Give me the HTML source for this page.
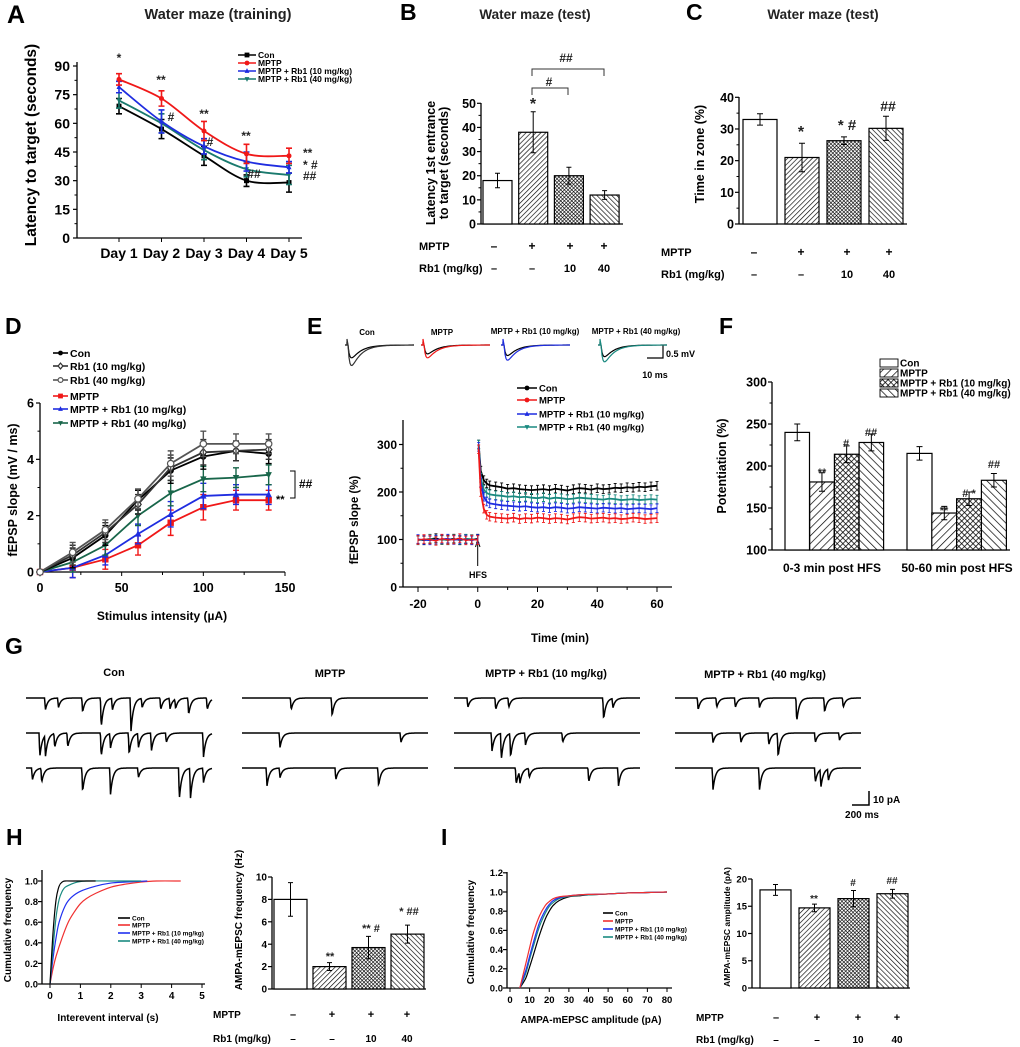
<!DOCTYPE html>
<html><head><meta charset="utf-8">
<style>html,body{margin:0;padding:0;background:#fff}svg{display:block}</style>
</head><body>
<svg id="fig" width="1020" height="1047" viewBox="0 0 1020 1047" xmlns="http://www.w3.org/2000/svg" font-family="Liberation Sans, Arial, sans-serif" font-weight="bold">
<defs>
<pattern id="pM" width="3.5" height="3.5" patternUnits="userSpaceOnUse" patternTransform="rotate(45)"><rect width="3.5" height="3.5" fill="#fff"/><line x1="0" y1="0" x2="0" y2="3.5" stroke="#000" stroke-width="1.3"/></pattern>
<pattern id="pR10" width="2.6" height="2.6" patternUnits="userSpaceOnUse" patternTransform="rotate(45)"><rect width="2.6" height="2.6" fill="#fff"/><path d="M0 0V2.6M0 0H2.6" stroke="#000" stroke-width="1.2"/></pattern>
<pattern id="pR40" width="3.5" height="3.5" patternUnits="userSpaceOnUse" patternTransform="rotate(-45)"><rect width="3.5" height="3.5" fill="#fff"/><line x1="0" y1="0" x2="0" y2="3.5" stroke="#000" stroke-width="1.3"/></pattern>
<pattern id="fM" width="5.5" height="5.5" patternUnits="userSpaceOnUse" patternTransform="rotate(45)"><rect width="5.5" height="5.5" fill="#fff"/><line x1="0" y1="0" x2="0" y2="5.5" stroke="#000" stroke-width="1.4"/></pattern>
<pattern id="fR10" width="4" height="4" patternUnits="userSpaceOnUse" patternTransform="rotate(45)"><rect width="4" height="4" fill="#fff"/><path d="M0 0V4M0 0H4" stroke="#000" stroke-width="1.5"/></pattern>
<pattern id="fR40" width="5.5" height="5.5" patternUnits="userSpaceOnUse" patternTransform="rotate(-45)"><rect width="5.5" height="5.5" fill="#fff"/><line x1="0" y1="0" x2="0" y2="5.5" stroke="#000" stroke-width="1.4"/></pattern>
</defs>

<text x="7" y="23" font-size="25">A</text>
<text x="218" y="19" font-size="14.5" text-anchor="middle" fill="#222">Water maze (training)</text>
<text x="400" y="20" font-size="23">B</text>
<text x="535" y="19" font-size="13.5" text-anchor="middle" fill="#222">Water maze (test)</text>
<text x="686" y="20" font-size="23">C</text>
<text x="823" y="19" font-size="13.5" text-anchor="middle" fill="#222">Water maze (test)</text>
<text x="5" y="334" font-size="23">D</text>
<text x="307" y="334" font-size="23">E</text>
<text x="719" y="334" font-size="23">F</text>
<text x="5" y="654" font-size="23">G</text>
<text x="6" y="845" font-size="23">H</text>
<text x="441" y="845" font-size="23">I</text>

<text transform="translate(36,145) rotate(-90)" font-size="15.5" text-anchor="middle">Latency to target (seconds)</text>
<text transform="translate(435,163) rotate(-90)" font-size="12.5" text-anchor="middle">Latency 1st entrance</text>
<text transform="translate(448,163) rotate(-90)" font-size="12.5" text-anchor="middle">to target (seconds)</text>
<text transform="translate(704,154) rotate(-90)" font-size="12.5" text-anchor="middle">Time in zone (%)</text>
<text transform="translate(17,490) rotate(-90)" font-size="12.5" text-anchor="middle">fEPSP slope (mV / ms)</text>
<text x="162" y="620" font-size="12" text-anchor="middle">Stimulus intensity (µA)</text>
<text transform="translate(358,520) rotate(-90)" font-size="11.5" text-anchor="middle">fEPSP slope (%)</text>
<text x="560" y="642" font-size="11.5" text-anchor="middle">Time (min)</text>
<text transform="translate(726,466) rotate(-90)" font-size="12.5" text-anchor="middle">Potentiation (%)</text>
<text x="832" y="572" font-size="12" text-anchor="middle">0-3 min post HFS</text>
<text x="957" y="572" font-size="12" text-anchor="middle">50-60 min post HFS</text>
<text transform="translate(11,930) rotate(-90)" font-size="10" text-anchor="middle">Cumulative frequency</text>
<text x="108" y="1021" font-size="10" text-anchor="middle">Interevent interval (s)</text>
<text transform="translate(242,920) rotate(-90)" font-size="10" text-anchor="middle">AMPA-mEPSC frequency (Hz)</text>
<text transform="translate(474,932) rotate(-90)" font-size="10" text-anchor="middle">Cumulative frequency</text>
<text x="591" y="1023" font-size="10" text-anchor="middle">AMPA-mEPSC amplitude (pA)</text>
<text transform="translate(730,927) rotate(-90)" font-size="8.5" text-anchor="middle">AMPA-mEPSC amplitude (pA)</text>

<text x="114" y="676" font-size="11" text-anchor="middle">Con</text>
<text x="330" y="677" font-size="11" text-anchor="middle">MPTP</text>
<text x="546" y="677" font-size="11" text-anchor="middle">MPTP + Rb1 (10 mg/kg)</text>
<text x="765" y="678" font-size="11" text-anchor="middle">MPTP + Rb1 (40 mg/kg)</text>
<path d="M869 791V805H852" stroke="#000" stroke-width="1.5" fill="none"/>
<text x="873" y="803" font-size="10">10 pA</text>
<text x="862" y="818" font-size="10" text-anchor="middle">200 ms</text>

<text x="367" y="335" font-size="8" text-anchor="middle">Con</text>
<text x="442" y="335" font-size="8" text-anchor="middle">MPTP</text>
<text x="535" y="334" font-size="8" text-anchor="middle">MPTP + Rb1 (10 mg/kg)</text>
<text x="636" y="334" font-size="8" text-anchor="middle">MPTP + Rb1 (40 mg/kg)</text>
<path d="M663 345V358H647" stroke="#000" stroke-width="1.2" fill="none"/>
<text x="666" y="357" font-size="9">0.5 mV</text>
<text x="655" y="378" font-size="9" text-anchor="middle">10 ms</text>
<text x="478" y="578" font-size="9" text-anchor="middle">HFS</text>
<path d="M477.7 566V542M475.5 547L477.7 540L480 547" stroke="#000" stroke-width="1" fill="none"/>
</svg>

<script>
const days = ['Day 1','Day 2','Day 3','Day 4','Day 5'];
const aCon = [69,57,43,30,29];
const aMPTP = [83,73,56,44,43];
const aRb10 = [79,61,48,40,37];
const aRb40 = [72,60,46,36,33];
const aConErr = [4,5,5,3,5];
const aMPTPErr = [3,4,5,5,4];
const aRb10Err = [3,6,4,5,3];
const aRb40Err = [4,5,5,4,5];

const bVals = [18,38,20,12];
const bErrs = [3,8.5,3.5,1.8];
const cVals = [33,21,26.3,30.2];
const cErrs = [1.8,4.5,1.2,3.8];

const dX = [0,20,40,60,80,100,120,140];
const dCon = [0,0.5,1.3,2.55,3.6,4.1,4.3,4.2];
const dRb10 = [0,0.6,1.4,2.4,3.7,4.25,4.3,4.35];
const dRb40 = [0,0.7,1.5,2.6,3.85,4.55,4.55,4.55];
const dMPTP = [0,0.15,0.45,0.95,1.75,2.3,2.55,2.55];
const dMRb10 = [0,0.15,0.6,1.35,2.05,2.7,2.75,2.75];
const dMRb40 = [0,0.35,0.95,2.0,2.8,3.3,3.35,3.45];
const dErr = [0,0.35,0.35,0.35,0.45,0.45,0.35,0.35];

const eBaseT = [-20,-18,-16,-14,-12,-10,-8,-6,-4,-2,0];
const ePostT = [0.3,1,2,3,4,6,8,10,12,14,16,18,20,22,24,26,28,30,32,34,36,38,40,42,44,46,48,50,52,54,56,58,60];
const eConBase = [100,98,101,103,99,100,102,98,101,100,102];
const eMBase = [99,101,100,97,102,99,100,103,98,100,99];
const eR10Base = [101,99,98,100,101,102,99,100,100,98,101];
const eR40Base = [98,100,102,99,100,98,101,99,102,101,100];
const eConPost = [300,245,225,218,214,212,210,207,208,206,205,204,205,206,204,207,205,203,206,208,207,205,208,206,207,209,208,210,209,211,210,212,213];
const eMPost = [290,200,165,152,148,146,145,144,146,143,145,144,146,145,143,145,144,142,145,147,146,144,145,146,144,145,143,144,146,145,143,144,145];
const eR10Post = [295,220,190,180,176,174,172,171,170,169,170,168,167,168,166,168,167,165,166,168,167,166,165,167,166,165,166,164,165,166,165,164,166];
const eR40Post = [300,230,205,198,195,193,192,190,191,189,190,188,187,189,186,188,187,185,186,188,187,186,185,184,186,185,183,184,185,183,184,185,184];
const eInsetPeakA = [0.55,0.38,0.45,0.5];
const eInsetPeakB = [0.88,0.55,0.65,0.72];

const fEarly = [240,181,214,228];
const fEarlyErr = [10,11,10,10];
const fLate = [215,144,161,183];
const fLateErr = [8,8,8,8];

const gPos = [
 [0.1,0.17,0.3,0.4,0.46,0.56,0.62,0.72,0.77,0.8,0.87,0.97],
 [0.07,0.1,0.15,0.22,0.4,0.45,0.55,0.6,0.67,0.75,0.95],
 [0.03,0.08,0.3,0.45,0.6,0.82,0.88,0.95],
 [0.26,0.48],[0.2,0.85],[0.13,0.2,0.5,0.73],
 [0.07,0.22,0.29,0.8,0.85],[0.2,0.25,0.3,0.38,0.58],[0.33,0.35,0.4,0.72,0.88],
 [0.12,0.22,0.32,0.45,0.65,0.8,0.9],[0.2,0.35,0.5,0.55,0.75,0.88],[0.2,0.45,0.75,0.78,0.82]
];
const gAmp = [
 [10,8,12,25,10,28,8,10,9,8,14,10],
 [20,18,12,12,20,12,18,12,15,8,20],
 [10,12,20,22,8,26,25,12],
 [10,15],[12,8],[15,8,10,15],
 [8,10,8,18,8],[15,22,20,10,8],[14,10,8,12,15],
 [10,8,8,8,20,12,8],[8,8,10,20,8,6],[18,18,12,15,10]
];

const hConX = [0,0.1,0.2,0.3,0.4,0.5,0.7,1.5];
const hConY = [0,0.5,0.82,0.95,0.99,1,1,1];
const hR40X = [0,0.1,0.2,0.3,0.4,0.5,0.7,0.9,1.2,2,3];
const hR40Y = [0,0.35,0.65,0.82,0.9,0.94,0.97,0.99,1,1,1];
const hR10X = [0,0.1,0.2,0.3,0.5,0.7,1,1.5,2,2.5,3.2];
const hR10Y = [0,0.25,0.45,0.6,0.76,0.84,0.9,0.95,0.98,0.99,1];
const hMX = [0,0.1,0.2,0.4,0.6,0.8,1,1.2,1.5,2,2.5,3,3.5,4.3];
const hMY = [0,0.15,0.27,0.45,0.6,0.7,0.78,0.83,0.88,0.94,0.97,0.99,1,1];
const hVals = [8,2,3.7,4.9];
const hErrs = [1.5,0.35,1.0,0.8];

const iX = [5,8,10,12,15,18,20,22,25,30,35,40,50,60,70,80];
const iMPTP = [0,0.25,0.42,0.58,0.75,0.86,0.9,0.93,0.95,0.96,0.97,0.975,0.98,0.99,0.995,1];
const iR10 = [0,0.18,0.33,0.48,0.68,0.81,0.87,0.91,0.94,0.96,0.97,0.975,0.98,0.99,0.995,1];
const iR40 = [0,0.15,0.3,0.44,0.64,0.78,0.85,0.89,0.93,0.955,0.965,0.97,0.98,0.99,0.995,1];
const iCon = [0,0.1,0.22,0.35,0.55,0.72,0.8,0.86,0.91,0.95,0.96,0.97,0.98,0.99,0.995,1];
const iVals = [18,14.7,16.4,17.3];
const iErrs = [1,0.7,1.5,0.8];

const NS = 'http://www.w3.org/2000/svg';
const svg = document.getElementById('fig');
function mk(tag, attrs, parent){const e=document.createElementNS(NS,tag);for(const k in attrs)e.setAttribute(k,attrs[k]);(parent||svg).appendChild(e);return e;}
function tx(x,y,s,size,anchor,parent,fill){const e=mk('text',{x:x,y:y,'font-size':size,'text-anchor':anchor||'start',fill:fill||'#000'},parent);e.textContent=s;return e;}
function sc(d0,d1,r0,r1){return v=>r0+(v-d0)*(r1-r0)/(d1-d0);}
function grp(){return mk('g',{});}

function yAxis(g,x,sy,ticks,minors,top,size,lblOff,tickLen){
  const ax=mk('line',{x1:x,y1:sy(ticks[0]),x2:x,y2:top,stroke:'#000','stroke-width':1.3},g);
  
  
  ticks.forEach(t=>{
    const tk=mk('line',{x1:x-(tickLen||4),y1:sy(t),x2:x,y2:sy(t),stroke:'#000','stroke-width':1.2},g);
    
    
    const l=tx(x-(lblOff||6),sy(t)+size*0.36,String(t),size,'end',g);
    
    
  });
  (minors||[]).forEach(t=>{
    const tk=mk('line',{x1:x-2.5,y1:sy(t),x2:x,y2:sy(t),stroke:'#000','stroke-width':1},g);
    
    
  });
}
function xAxisLine(g,x1,x2,y){
  const ax=mk('line',{x1:x1,y1:y,x2:x2,y2:y,stroke:'#000','stroke-width':1.3},g);
  
  
}
function errBar(g,x,y1,y2,cap,color,w){
  const e=mk('path',{d:`M${x} ${y1}V${y2}M${x-cap} ${y1}H${x+cap}M${x-cap} ${y2}H${x+cap}`,stroke:color||'#000','stroke-width':w||1,fill:'none'},g);
  
  
}
function bars(g,vals,errs,x0,w,step,sy,fills,cap){
  vals.forEach((v,i)=>{
    const x=x0+i*step;
    const r=mk('rect',{x:x,y:sy(v),width:w,height:sy(sy.base)-sy(v),fill:fills[i],stroke:'#000','stroke-width':1.2},g);
    
    
    errBar(g,x+w/2,sy(v+errs[i]),sy(v-errs[i]),cap||3);
  });
}
function smoothPath(pts){
  let d=`M${pts[0][0]} ${pts[0][1]}`;
  for(let i=0;i<pts.length-1;i++){
    const p0=pts[i-1]||pts[i],p1=pts[i],p2=pts[i+1],p3=pts[i+2]||p2;
    d+=` C${p1[0]+(p2[0]-p0[0])/6} ${p1[1]+(p2[1]-p0[1])/6} ${p2[0]-(p3[0]-p1[0])/6} ${p2[1]-(p3[1]-p1[1])/6} ${p2[0]} ${p2[1]}`;
  }
  return d;
}
function marker(g,type,x,y,color,s){
  let e;
  s=s||3;
  if(type==='circle') e=mk('circle',{cx:x,cy:y,r:s,fill:color},g);
  else if(type==='ocircle') e=mk('circle',{cx:x,cy:y,r:s,fill:'#fff',stroke:color,'stroke-width':1.2},g);
  else if(type==='square') e=mk('rect',{x:x-s,y:y-s,width:2*s,height:2*s,fill:color},g);
  else if(type==='diamond') e=mk('path',{d:`M${x} ${y-s-0.5}L${x+s} ${y}L${x} ${y+s+0.5}L${x-s} ${y}Z`,fill:'#fff',stroke:color,'stroke-width':1.2},g);
  else if(type==='tri') e=mk('path',{d:`M${x} ${y-s-0.5}L${x+s} ${y+s-0.5}L${x-s} ${y+s-0.5}Z`,fill:color},g);
  else e=mk('path',{d:`M${x} ${y+s+0.5}L${x+s} ${y-s+0.5}L${x-s} ${y-s+0.5}Z`,fill:color},g);
  
  
}
function signRows(g,labX,y1,y2,xs,row1,row2,size){
  const a=tx(labX,y1,'MPTP',size,'start',g);
  
  
  const b=tx(labX,y2,'Rb1 (mg/kg)',size,'start',g);
  
  
  xs.forEach((x,i)=>{
    const s1=tx(x,y1,row1[i],size+1,'middle',g);
    
    
    const s2=tx(x,y2,row2[i],size,'middle',g);
    
    
  });
}
function legendLine(g,x1,x2,y,color,label,size,mtype){
  const l=mk('line',{x1:x1,y1:y,x2:x2,y2:y,stroke:color,'stroke-width':1.6},g);
  
  
  if(mtype) marker(g,mtype,(x1+x2)/2,y,color,2.4);
  const t=tx(x2+2,y+size*0.36,label,size,'start',g);
  
  
}
const row1Labels=['–','+','+','+'];
const row2Labels=['–','–','10','40'];

(function(){
  const g=grp();
  
  
  const sy=sc(0,90,238,66);
  const sx=i=>119+42.5*i;
  yAxis(g,77,sy,[0,15,30,45,60,75,90],[7.5,22.5,37.5,52.5,67.5,82.5],62,14,7);
  xAxisLine(g,77,302,238);
  days.forEach((d,i)=>{
    const tk=mk('line',{x1:sx(i),y1:238,x2:sx(i),y2:242,stroke:'#000'},g);
    
    
    const l=tx(sx(i),258,d,14,'middle',g);
    
    
  });
  const series=[[aCon,aConErr,'#000','square'],[aRb40,aRb40Err,'#1a7a6e','tri2'],[aRb10,aRb10Err,'#1f2de0','tri'],[aMPTP,aMPTPErr,'#f01818','circle']];
  series.forEach(([v,e,c,m])=>{
    const pts=v.map((y,i)=>[sx(i),sy(y)]);
    const p=mk('path',{d:smoothPath(pts),stroke:c,'stroke-width':1.8,fill:'none'},g);
    
    
    v.forEach((y,i)=>{errBar(g,sx(i),sy(y+e[i]),sy(y-e[i]),3,c,1.6);marker(g,m,sx(i),sy(y),c,2.5);});
  });
  [['*',119,62],['**',161,84],['**',204,118],['**',246,140],['#',171,121],['#',210,146],['##',254,178],['**',303,157],['* #',303,169],['##',303,180]].forEach(([s,x,y])=>{
    const t=tx(x,y,s,12,s.length>1&&x>290?'start':'middle',g,'#222');
    
    
  });
  legendLine(g,238,256,55,'#000','Con',8.5,'square');
  legendLine(g,238,256,63,'#f01818','MPTP',8.5,'circle');
  legendLine(g,238,256,71,'#1f2de0','MPTP + Rb1 (10 mg/kg)',8.5,'tri');
  legendLine(g,238,256,79,'#1a7a6e','MPTP + Rb1 (40 mg/kg)',8.5,'tri2');
})();

(function(){
  const g=grp();
  
  
  const sy=sc(0,50,224,103.3); sy.base=0;
  yAxis(g,481,sy,[0,10,20,30,40,50],[5,15,25,35,45],103,12.5,5);
  xAxisLine(g,481,623,224);
  bars(g,bVals,bErrs,483,29,35.7,sy,['#fff','url(#pM)','url(#pR10)','url(#pR40)'],2.5);
  const br=mk('path',{d:'M532 76V69H604V76M532 95V88H568V95',stroke:'#333','stroke-width':1,fill:'none'},g);
  
  
  [['##',566,62,12],['#',549,86,12],['*',533,109,16]].forEach(([s,x,y,fs])=>{
    const t=tx(x,y,s,fs,'middle',g,'#222');
    
    
  });
  signRows(g,419,250,272,[494,532,570,604],row1Labels,row2Labels,11);
})();

(function(){
  const g=grp();
  
  
  const sy=sc(0,40,224,97.3); sy.base=0;
  yAxis(g,739,sy,[0,10,20,30,40],[5,15,25,35],97,12.5,5);
  xAxisLine(g,739,907,224);
  bars(g,cVals,cErrs,743,34,42,sy,['#fff','url(#pM)','url(#pR10)','url(#pR40)'],3);
  [['*',801,137,16],['* #',847,130,15],['##',888,111,14]].forEach(([s,x,y,fs])=>{
    const t=tx(x,y,s,fs,'middle',g,'#222');
    
    
  });
  signRows(g,661,256,278,[754,801,847,889],row1Labels,row2Labels,11);
})();

(function(){
  const g=grp();
  
  
  const sy=sc(0,6,572,403), sx=sc(0,150,40,285);
  yAxis(g,40,sy,[0,2,4,6],[1,3,5],403,12.5,6);
  xAxisLine(g,40,285,572);
  [0,50,100,150].forEach(v=>{
    const tk=mk('line',{x1:sx(v),y1:572,x2:sx(v),y2:576,stroke:'#000'},g);
    
    
    const l=tx(sx(v),592,String(v),12.5,'middle',g);
    
    
  });
  [25,75,125].forEach(v=>{
    const tk=mk('line',{x1:sx(v),y1:572,x2:sx(v),y2:575,stroke:'#000'},g);
    
    
  });
  const series=[[dMPTP,'#f01818','square'],[dMRb10,'#1f2de0','tri'],[dMRb40,'#18664a','tri2'],[dCon,'#000','circle'],[dRb10,'#333','diamond'],[dRb40,'#555','ocircle']];
  series.forEach(([v,c,m])=>{
    const p=mk('polyline',{points:v.map((y,i)=>sx(dX[i])+','+sy(y)).join(' '),stroke:c,'stroke-width':1.8,fill:'none'},g);
    
    
    v.forEach((y,i)=>{if(i>0)errBar(g,sx(dX[i]),sy(y+dErr[i]),sy(y-dErr[i]),3,c,1.4);marker(g,m,sx(dX[i]),sy(y),c,3.2);});
  });
  const br=mk('path',{d:'M290 471H295V498H290',stroke:'#000','stroke-width':1,fill:'none'},g);
  
  
  const t1=tx(299,488,'##',12,'start',g);
  
  
  const t2=tx(276,503,'**',11,'start',g);
  
  
  legendLine(g,53,68,353,'#000','Con',10.5,'circle');
  legendLine(g,53,68,366,'#333','Rb1 (10 mg/kg)',10.5,'diamond');
  legendLine(g,53,68,380,'#555','Rb1 (40 mg/kg)',10.5,'ocircle');
  legendLine(g,53,68,396,'#f01818','MPTP',10.5,'square');
  legendLine(g,53,68,409,'#1f2de0','MPTP + Rb1 (10 mg/kg)',10.5,'tri');
  legendLine(g,53,68,423,'#18664a','MPTP + Rb1 (40 mg/kg)',10.5,'tri2');
})();

(function(){
  const g=grp();
  
  
  const sy=sc(0,300,587,444.5), sx=sc(-20,60,418,657);
  yAxis(g,403,sy,[0,100,200,300],[50,150,250],420,12,6);
  xAxisLine(g,403,672,587);
  [-20,0,20,40,60].forEach(v=>{
    const tk=mk('line',{x1:sx(v),y1:587,x2:sx(v),y2:592,stroke:'#000'},g);
    
    
    const l=tx(sx(v),608,String(v),12,'middle',g);
    
    
  });
  [-10,10,30,50].forEach(v=>{
    const tk=mk('line',{x1:sx(v),y1:587,x2:sx(v),y2:590,stroke:'#000'},g);
    
    
  });
  const series=[[eConBase,eConPost,'#000'],[eR40Base,eR40Post,'#1a8a80'],[eR10Base,eR10Post,'#1f2de0'],[eMBase,eMPost,'#f01818']];
  series.forEach(([b,p,c])=>{
    const pts=eBaseT.map((t,i)=>[t,b[i]]);
    const pp=ePostT.map((t,i)=>[t,p[i]]);
    const l1=mk('polyline',{points:pts.map(q=>sx(q[0])+','+sy(q[1])).join(' '),stroke:c,'stroke-width':1.3,fill:'none'},g);
    
    
    const l2=mk('polyline',{points:pp.map(q=>sx(q[0])+','+sy(q[1])).join(' '),stroke:c,'stroke-width':1.8,fill:'none'},g);
    
    
    pts.concat(pp).forEach(q=>{errBar(g,sx(q[0]),sy(q[1]+9),sy(q[1]-9),1.5,c,0.9);});
  });
  legendLine(g,517,537,388,'#000','Con',9.5,'circle');
  legendLine(g,517,537,400,'#f01818','MPTP',9.5,'circle');
  legendLine(g,517,537,414,'#1f2de0','MPTP + Rb1 (10 mg/kg)',9.5,'tri');
  legendLine(g,517,537,427,'#1a8a80','MPTP + Rb1 (40 mg/kg)',9.5,'tri2');
  const tx0=[345,421,501,598], cols=['#000','#f01818','#1f2de0','#1a8a80'];
  const pxPerMv=26;
  tx0.forEach((x0,k)=>{
    [[eInsetPeakA[k],'#000'],[eInsetPeakB[k],cols[k]]].forEach(([amp,c],j)=>{
      let d=`M${x0} 345 L${x0+2} 345 L${x0+2} ${345-(j?6:3)} L${x0+3} 345`;
      for(let t=0;t<=66;t+=1){
        const u=t/66*70;
        const v=amp*(1-Math.exp(-u/2.2))*Math.exp(-u/10);
        d+=` L${x0+3+t} ${345+v*pxPerMv*1.6}`;
      }
      const p=mk('path',{d:d,stroke:(k===0&&j===1)?'#333':c,'stroke-width':1.2,fill:'none'},g);
      
      
    });
  });
})();

(function(){
  const g=grp();
  
  
  const sy=sc(100,300,550,382); sy.base=100;
  yAxis(g,772,sy,[100,150,200,250,300],[125,175,225,275],382,12.5,5);
  xAxisLine(g,772,1010,550);
  const fills=['#fff','url(#fM)','url(#fR10)','url(#fR40)'];
  bars(g,fEarly,fEarlyErr,785,24.5,24.7,sy,fills,3);
  bars(g,fLate,fLateErr,907,25,24.8,sy,fills,3);
  [['**',822,476],['#',846,447],['##',871,436],['**',944,514],['# *',969,497],['##',994,468]].forEach(([s,x,y])=>{
    const t=tx(x,y,s,11,'middle',g,'#222');
    
    
  });
  [['#fff','Con',363],['url(#fM)','MPTP',373],['url(#fR10)','MPTP + Rb1 (10 mg/kg)',383],['url(#fR40)','MPTP + Rb1 (40 mg/kg)',393]].forEach(([f,l,y])=>{
    const r=mk('rect',{x:880,y:y-4,width:18,height:8,fill:f,stroke:'#000','stroke-width':0.9},g);
    
    
    const t=tx(900,y+3.5,l,10,'start',g);
    
    
  });
})();

(function(){
  const g=grp();
  
  
  const rowY=[698,733,768], gx0=[26,242,454,675], W=186, pxPerPa=1.2;
  gPos.forEach((pos,k)=>{
    const grpIdx=Math.floor(k/3), row=k%3;
    const x0=gx0[grpIdx], y0=rowY[row];
    let d='';
    for(let t=0;t<=W;t+=0.5){
      let v=0;
      pos.forEach((p,j)=>{const t0=p*W;if(t>=t0){const u=t-t0;v+=gAmp[k][j]*(u<0.8?u/0.8:Math.exp(-(u-0.8)/2.5));}});
      d+=(t===0?'M':'L')+(x0+t)+' '+(y0+v*pxPerPa).toFixed(1)+' ';
    }
    const p=mk('path',{d:d,stroke:'#000','stroke-width':1.5,fill:'none'},g);
    
    
  });
})();

(function(){
  const g=grp();
  
  
  const sy=sc(0,1,984,881), sx=sc(0,5,50,202);
  yAxis(g,42,sy,[0,0.2,0.4,0.6,0.8,1.0],[],870,9.5,4);
  g.querySelectorAll('text').forEach((t,i)=>{t.textContent=[0,0.2,0.4,0.6,0.8,1.0][i].toFixed(1);});
  xAxisLine(g,42,205,984);
  [0,1,2,3,4,5].forEach(v=>{
    const tk=mk('line',{x1:sx(v),y1:984,x2:sx(v),y2:988,stroke:'#000'},g);
    
    
    const l=tx(sx(v),999,String(v),10,'middle',g);
    
    
  });
  [[hMX,hMY,'#f03030'],[hR10X,hR10Y,'#2030f0'],[hR40X,hR40Y,'#1a8a80'],[hConX,hConY,'#000']].forEach(([xs,ys,c])=>{
    const p=mk('path',{d:smoothPath(xs.map((x,i)=>[sx(x),sy(ys[i])])),stroke:c,'stroke-width':1.2,fill:'none'},g);
    
    
  });
  legendLine(g,118,130,918,'#000','Con',6.5);
  legendLine(g,118,130,925,'#f03030','MPTP',6.5);
  legendLine(g,118,130,933,'#2030f0','MPTP + Rb1 (10 mg/kg)',6.5);
  legendLine(g,118,130,941,'#1a8a80','MPTP + Rb1 (40 mg/kg)',6.5);

  const g2=grp();
  
  
  const sy2=sc(0,10,989,877); sy2.base=0;
  yAxis(g2,272,sy2,[0,2,4,6,8,10],[],877,10,5);
  xAxisLine(g2,272,426,989);
  bars(g2,hVals,hErrs,274,33,39,sy2,['#fff','url(#pM)','url(#pR10)','url(#pR40)'],2.5);
  [['**',330,960],['** #',371,932],['* ##',409,915]].forEach(([s,x,y])=>{
    const t=tx(x,y,s,11,'middle',g2,'#222');
    
    
  });
  signRows(g2,213,1018,1042,[293,332,371,407],row1Labels,row2Labels,10);
})();

(function(){
  const g=grp();
  
  
  const sy=sc(0,1,988,892), sx=sc(0,80,510,667);
  yAxis(g,507,sy,[0,0.2,0.4,0.6,0.8,1.0,1.2],[],872,9.5,4);
  g.querySelectorAll('text').forEach((t,i)=>{t.textContent=[0,0.2,0.4,0.6,0.8,1.0,1.2][i].toFixed(1);});
  xAxisLine(g,507,672,988);
  [0,10,20,30,40,50,60,70,80].forEach(v=>{
    const tk=mk('line',{x1:sx(v),y1:988,x2:sx(v),y2:992,stroke:'#000'},g);
    
    
    const l=tx(sx(v),1003,String(v),9.5,'middle',g);
    
    
  });
  [[iCon,'#000'],[iR40,'#1a8a80'],[iR10,'#2030f0'],[iMPTP,'#f03030']].forEach(([ys,c])=>{
    const p=mk('path',{d:smoothPath(iX.map((x,i)=>[sx(x),sy(ys[i])])),stroke:c,'stroke-width':1.2,fill:'none'},g);
    
    
  });
  legendLine(g,603,613,913,'#000','Con',6.5);
  legendLine(g,603,613,921,'#f03030','MPTP',6.5);
  legendLine(g,603,613,929,'#2030f0','MPTP + Rb1 (10 mg/kg)',6.5);
  legendLine(g,603,613,937,'#1a8a80','MPTP + Rb1 (40 mg/kg)',6.5);

  const g2=grp();
  
  
  const sy2=sc(0,20,988,879); sy2.base=0;
  yAxis(g2,752,sy2,[0,5,10,15,20],[],879,9.5,5);
  xAxisLine(g2,752,910,988);
  bars(g2,iVals,iErrs,760,31,39,sy2,['#fff','url(#pM)','url(#pR10)','url(#pR40)'],2.5);
  [['**',814,902],['#',853,886],['##',892,884]].forEach(([s,x,y])=>{
    const t=tx(x,y,s,10,'middle',g2,'#222');
    
    
  });
  signRows(g2,696,1021,1043,[776,817,858,897],row1Labels,row2Labels,10);
})();
</script>
</body></html>
